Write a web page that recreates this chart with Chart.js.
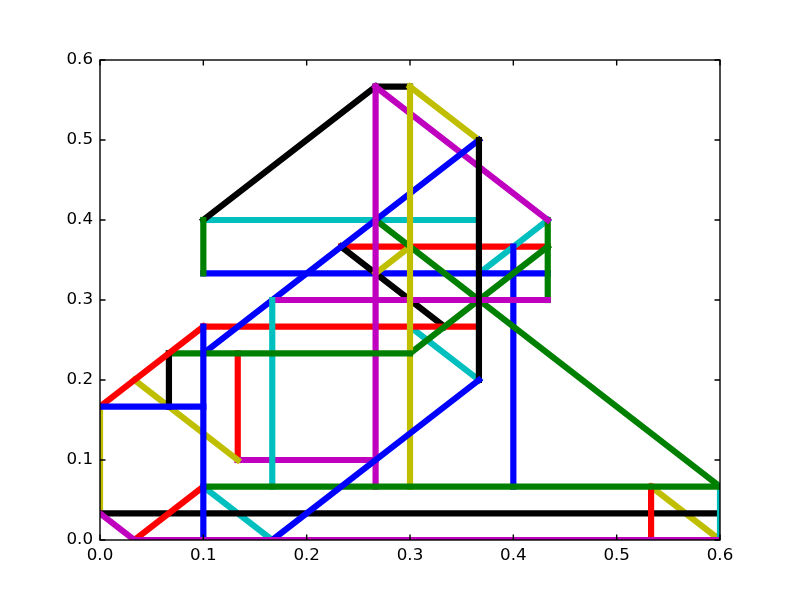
<!DOCTYPE html>
<html>
<head>
<meta charset="utf-8">
<script src="https://cdn.jsdelivr.net/npm/chart.js@4/dist/chart.umd.min.js"></script>
<style>
  html, body { margin: 0; padding: 0; background: #ffffff; }
  #wrap { width: 800px; height: 600px; }
</style>
</head>
<body>
<div id="wrap"><canvas id="c" width="800" height="600"></canvas></div>
<script>
// Segments: [x1, y1, x2, y2]
const blueSegments = [
  [0.0, 0.1667, 0.1, 0.1667],
  [0.1, 0.0, 0.1, 0.2667],
  [0.1, 0.2333, 0.3667, 0.5],
  [0.1667, 0.0, 0.3667, 0.2],
  [0.1, 0.3333, 0.4333, 0.3333],
  [0.4, 0.0667, 0.4, 0.3667]
];
const greenSegments = [
  [0.1, 0.0667, 0.6, 0.0667],
  [0.2667, 0.4, 0.6, 0.0667],
  [0.0667, 0.2333, 0.3, 0.2333],
  [0.3, 0.2333, 0.4333, 0.3667],
  [0.4333, 0.3, 0.4333, 0.4],
  [0.1, 0.3333, 0.1, 0.4]
];
const redSegments = [
  [0.0333, 0.0, 0.1, 0.0667],
  [0.0, 0.1667, 0.1, 0.2667],
  [0.1, 0.2667, 0.3667, 0.2667],
  [0.1333, 0.1, 0.1333, 0.2333],
  [0.2333, 0.3667, 0.4333, 0.3667],
  [0.5333, 0.0, 0.5333, 0.0667]
];
const cyanSegments = [
  [0.1, 0.0667, 0.1667, 0.0],
  [0.1667, 0.0667, 0.1667, 0.3],
  [0.1, 0.4, 0.3667, 0.4],
  [0.3, 0.2667, 0.3667, 0.2],
  [0.3667, 0.3333, 0.4333, 0.4],
  [0.6, 0.0, 0.6, 0.0667]
];
const magentaSegments = [
  [0.0333, 0.0, 0.6, 0.0],
  [0.0, 0.0333, 0.0333, 0.0],
  [0.1333, 0.1, 0.2667, 0.1],
  [0.2667, 0.0667, 0.2667, 0.5667],
  [0.2667, 0.5667, 0.4333, 0.4],
  [0.1667, 0.3, 0.4333, 0.3]
];
const yellowSegments = [
  [0.0, 0.0333, 0.0, 0.1667],
  [0.0333, 0.2, 0.1333, 0.1],
  [0.3, 0.0667, 0.3, 0.5667],
  [0.3, 0.5667, 0.3667, 0.5],
  [0.2667, 0.3333, 0.3, 0.3667],
  [0.5333, 0.0667, 0.6, 0.0]
];
const blackSegments = [
  [0.0, 0.0333, 0.6, 0.0333],
  [0.1, 0.4, 0.2667, 0.5667],
  [0.2667, 0.5667, 0.3, 0.5667],
  [0.3667, 0.5, 0.3667, 0.2],
  [0.2333, 0.3667, 0.3333, 0.2667],
  [0.0667, 0.2333, 0.0667, 0.1667]
];
const tickValues = [0.0, 0.1, 0.2, 0.3, 0.4, 0.5, 0.6];

const groups = {
  b: { color: '#0000ff', segs: blueSegments },
  g: { color: '#008000', segs: greenSegments },
  r: { color: '#ff0000', segs: redSegments },
  c: { color: '#00bfbf', segs: cyanSegments },
  m: { color: '#bf00bf', segs: magentaSegments },
  y: { color: '#bfbf00', segs: yellowSegments },
  k: { color: '#000000', segs: blackSegments }
};
// drawing order, bottom to top: [group, index]
const drawOrder = [
  ['m',0],['m',1],['b',0],['b',1],['b',3],['g',0],['c',5],['r',5],['r',0],['r',1],
  ['k',5],['k',0],['c',0],['y',5],['y',0],['y',1],['g',2],['c',1],['m',2],['y',2],
  ['k',3],['m',3],['m',5],['b',2],['m',4],['y',3],['g',1],['g',3],['g',4],['g',5],
  ['y',4],['r',2],['r',3],['k',1],['k',2],['c',2],['c',3],['k',4],['b',4],['b',5],
  ['c',4],['r',4]
];

const datasets = drawOrder.map(([gk, i]) => {
  const s = groups[gk].segs[i];
  return {
    data: [{ x: s[0], y: s[1] }, { x: s[2], y: s[3] }],
    showLine: true,
    borderColor: groups[gk].color,
    backgroundColor: groups[gk].color,
    borderWidth: 6.2,
    borderCapStyle: 'square',
    pointRadius: 0,
    pointHoverRadius: 0,
    fill: false,
    tension: 0,
    clip: 0
  };
});

const frame = {
  id: 'frame',
  afterDatasetsDraw(chart) {
    const { ctx, chartArea: a, scales } = chart;
    ctx.save();
    ctx.strokeStyle = '#000';
    ctx.lineWidth = 1.4;
    ctx.strokeRect(a.left, a.top, a.right - a.left, a.bottom - a.top);
    const tl = 5.5;
    ctx.beginPath();
    tickValues.forEach(v => {
      const px = scales.x.getPixelForValue(v);
      ctx.moveTo(px, a.bottom); ctx.lineTo(px, a.bottom - tl);
      ctx.moveTo(px, a.top); ctx.lineTo(px, a.top + tl);
      const py = scales.y.getPixelForValue(v);
      ctx.moveTo(a.left, py); ctx.lineTo(a.left + tl, py);
      ctx.moveTo(a.right, py); ctx.lineTo(a.right - tl, py);
    });
    ctx.stroke();
    ctx.restore();
  }
};

const tickFont = { family: 'DejaVu Sans', size: 16.7 };

new Chart(document.getElementById('c'), {
  type: 'scatter',
  data: { datasets },
  options: {
    responsive: false,
    animation: false,
    events: [],
    layout: { padding: { top: 60, right: 80, left: 0, bottom: 0 } },
    plugins: { legend: { display: false }, tooltip: { enabled: false } },
    scales: {
      x: {
        type: 'linear', min: 0, max: 0.6,
        afterBuildTicks: s => { s.ticks = tickValues.map(v => ({ value: v })); },
        afterFit: s => { s.height = 60; },
        grid: { display: false, drawTicks: false },
        border: { display: false },
        ticks: { font: tickFont, color: '#000', padding: 6, maxRotation: 0,
                 callback: v => v.toFixed(1) }
      },
      y: {
        type: 'linear', min: 0, max: 0.6,
        afterBuildTicks: s => { s.ticks = tickValues.map(v => ({ value: v })); },
        afterFit: s => { s.width = 100; },
        grid: { display: false, drawTicks: false },
        border: { display: false },
        ticks: { font: tickFont, color: '#000', padding: 7,
                 callback: v => v.toFixed(1) }
      }
    }
  },
  plugins: [frame]
});
</script>
</body>
</html>
